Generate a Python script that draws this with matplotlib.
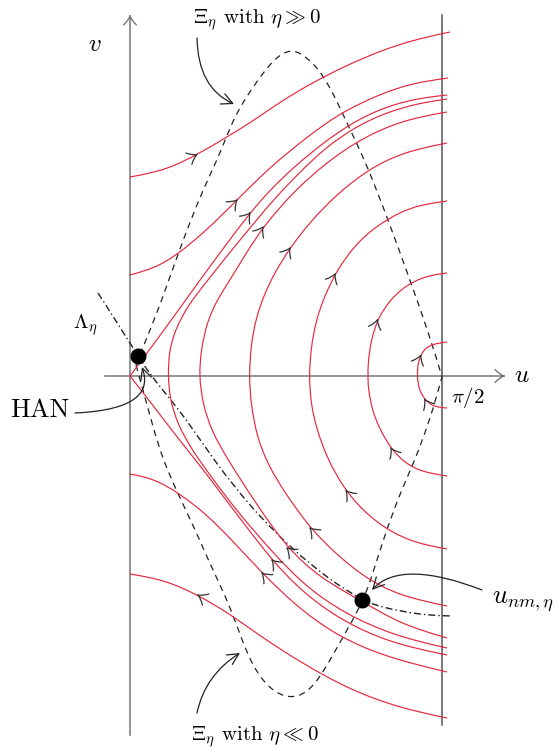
import numpy as np
import matplotlib
matplotlib.use("Agg")
import matplotlib.pyplot as plt
from matplotlib.path import Path
from matplotlib.patches import FancyArrowPatch, PathPatch

plt.rcParams['font.family'] = ['cmr10', 'DejaVu Serif']
plt.rcParams['mathtext.fontset'] = 'cm'
plt.rcParams['axes.unicode_minus'] = False
plt.rcParams['lines.scale_dashes'] = False

# ---- readings in picture units: (u,v) origin at X0,Y0; u = pi/2 at XR ----
X0, Y0, XR = 130.0, 376.0, 442.0
S = (np.pi / 2) / (XR - X0)

# trajectories (red), listed in the direction of the flow
traj_A = [(130,177),(167,170),(200,153),(227,137),(253,121),(280,102),(310,84),(345,66),(380,51),(413,40),(450,32)]
traj_B = [(130,275),(155,268),(177,255),(207,230),(237,200),(270,167),(307,137),(340,113),(380,94),(413,83),(448,78)]
traj_C_up = [(130,376),(150,349),(175,315),(200,280),(225,246),(250,213),(270,190),(295,166),(323,143),(353,122),(387,106),(420,98),(447,95)]
traj_C_lo = [(447,655),(390,643),(340,620),(300,590),(272,560),(245,525),(220,492),(198,463),(177,437),(155,408),(130,376)]
traj_D = [(447,648),(395,636),(345,614),(305,586),(275,555),(240,515),(212,478),(192,450),(178,425),(170,400),(168,376),
          (169,352),(175,330),(188,305),(208,280),(230,252),(255,222),(275,198),(300,172),(325,148),(355,127),(387,112),(420,103),(447,99)]
traj_E = [(447,638),(400,624),(360,600),(320,578),(287,548),(255,502),(228,460),(212,432),(203,405),(199,376),
          (201,350),(207,322),(217,300),(230,280),(245,255),(263,227),(293,192),(327,162),(362,138),(403,120),(447,112)]
traj_F = [(447,606),(400,596),(365,578),(335,553),(310,528),(285,493),(268,465),(257,437),(251,405),(249,376),
          (251,345),(256,318),(264,295),(275,272),(290,248),(310,222),(335,196),(367,170),(403,152),(447,143)]
traj_G = [(447,549),(415,543),(387,530),(362,510),(343,487),(327,458),(317,430),(311,405),(309,376),
          (311,348),(316,320),(325,295),(337,270),(355,245),(375,227),(400,212),(420,205),(447,201)]
traj_H = [(447,476),(422,472),(405,463),(392,450),(380,430),(372,410),(368,387),(368,376),
          (368,363),(371,340),(378,318),(390,300),(405,286),(425,276),(447,273)]
traj_I = [(447,408),(434,407),(425,400),(419,390),(417,376),(418,362),(423,350),(432,344),(447,342)]
traj_B2 = [(447,672),(385,657),(335,635),(295,605),(262,573),(232,540),(205,513),(180,494),(155,479),(130,474)]
traj_A2 = [(447,718),(400,708),(350,690),(300,662),(260,636),(230,614),(198,595),(165,580),(130,574)]

trajectories = [traj_A, traj_B, traj_C_up, traj_C_lo, traj_D, traj_E, traj_F, traj_G, traj_H, traj_I, traj_B2, traj_A2]

# flow-direction arrow marks: (trajectory index, position)
arrow_marks = [(0,(197,155)),(1,(237,200)),(2,(250,213)),(5,(263,227)),(6,(290,248)),(7,(333,273)),
               (8,(378,320)),(9,(420,355)),(9,(427,398)),(8,(393,447)),(7,(347,490)),(6,(310,528)),
               (5,(287,548)),(3,(272,560)),(10,(262,573)),(11,(198,595))]

# Xi_eta curves (dashed)
xi_pos = [(136,365),(143,347),(157,313),(167,285),(177,257),(190,222),(203,190),(217,160),(226,138),(235,116),
          (247,96),(260,77),(275,58),(290,49),(303,54),(320,70),(334,95),(347,123),(367,165),(387,217),
          (410,280),(430,337),(442,377)]
xi_neg = [(136,365),(143,390),(153,427),(163,460),(178,494),(193,525),(207,557),(220,585),(230,607),(242,640),
          (253,667),(270,690),(290,699),(307,693),(320,677),(333,655),(343,637),(360,607),(370,583),
          (383,540),(400,493),(413,465),(430,420),(442,377)]
# Lambda_eta (dash-dot)
lam = [(98,293),(118,324),(138,356),(147,370),(165,393),(187,420),(215,462),(253,510),(293,550),
       (330,580),(362,600),(380,607),(420,615),(452,616)]

han_pt = (138,356)
unm_pt = (362,600)


def uv(pts):
    a = np.asarray(pts, float)
    return np.column_stack([(a[:, 0] - X0) * S, (Y0 - a[:, 1]) * S])


def smooth_path(pts):
    P = uv(pts)
    P = np.vstack([P[0], P[0], P, P[-1], P[-1]])
    verts, codes = [], []
    for i in range(len(P) - 3):
        q0, q1, q2, q3 = P[i], P[i + 1], P[i + 2], P[i + 3]
        b0 = (q0 + 4 * q1 + q2) / 6
        b1 = (2 * q1 + q2) / 3
        b2 = (q1 + 2 * q2) / 3
        b3 = (q1 + 4 * q2 + q3) / 6
        if i == 0:
            verts.append(b0); codes.append(Path.MOVETO)
        verts += [b1, b2, b3]
        codes += [Path.CURVE4] * 3
    return Path(np.array(verts), codes)


fig = plt.figure(figsize=(5.58, 7.5), dpi=100)
ax = fig.add_axes([0, 0, 1, 1])
ax.set_xlim((0 - X0) * S, (558 - X0) * S)
ax.set_ylim((Y0 - 750) * S, Y0 * S)
ax.axis('off')

RED = '#e8273d'
for t in trajectories:
    ax.add_patch(PathPatch(smooth_path(t), fill=False, edgecolor=RED, lw=0.85, zorder=3))

for c in (xi_pos, xi_neg):
    ax.add_patch(PathPatch(smooth_path(c), fill=False, edgecolor='#222222', lw=0.9,
                           linestyle=(0, (4.5, 3.6)), zorder=2))
ax.add_patch(PathPatch(smooth_path(lam), fill=False, edgecolor='#222222', lw=1.0,
                       linestyle=(0, (5, 2.2, 1, 2.2)), zorder=2))


def chevron(p, d, color='#333333', L=11.0, half=np.radians(36), lw=0.9):
    d = d / np.hypot(*d)
    n = np.array([-d[1], d[0]])
    Ld = L * S
    for s in (1, -1):
        end = p - Ld * (np.cos(half) * d + s * np.sin(half) * n)
        ctrl = p - 0.5 * Ld * (np.cos(half * 0.6) * d + s * np.sin(half * 0.6) * n)
        ax.add_patch(PathPatch(Path([p, ctrl, end], [Path.MOVETO, Path.CURVE3, Path.CURVE3]),
                               fill=False, edgecolor=color, lw=lw, zorder=5, capstyle='round'))


for idx, pos in arrow_marks:
    P = uv(trajectories[idx])
    q = uv([pos])[0]
    best = None
    for i in range(len(P) - 1):
        a, b = P[i], P[i + 1]
        ab = b - a
        t = np.clip(np.dot(q - a, ab) / np.dot(ab, ab), 0, 1)
        pr = a + t * ab
        dist = np.hypot(*(q - pr))
        if best is None or dist < best[0]:
            best = (dist, pr, ab)
    _, pr, ab = best
    chevron(pr, ab)

# axes lines
AX = '#777777'
vax = uv([(130, 735), (130, 16)])
hax = uv([(105, 376), (504, 376)])
rax = uv([(442, 15), (442, 725)])
ax.plot(vax[:, 0], vax[:, 1], color=AX, lw=1.1, zorder=1)
ax.plot(hax[:, 0], hax[:, 1], color=AX, lw=1.1, zorder=1)
ax.plot(rax[:, 0], rax[:, 1], color='#555555', lw=1.1, zorder=1)
chevron(vax[1], np.array([0.0, 1.0]), color=AX, L=11, lw=1.0)
chevron(hax[1], np.array([1.0, 0.0]), color=AX, L=11, lw=1.0)

# dots
for p in (han_pt, unm_pt):
    q = uv([p])[0]
    ax.plot([q[0]], [q[1]], 'o', ms=10.5, color='black', zorder=6)


# annotation arrows
def ann(path_pts, codes):
    P = uv(path_pts)
    pa = FancyArrowPatch(path=Path(P, codes), arrowstyle='->,head_length=8,head_width=4',
                         lw=0.9, color='#222222', zorder=6, mutation_scale=1)
    ax.add_patch(pa)


ann([(197, 38), (198, 88), (234, 104)], [Path.MOVETO, Path.CURVE3, Path.CURVE3])
ann([(75, 413), (140, 410), (150, 390), (142, 367)], [Path.MOVETO, Path.CURVE4, Path.CURVE4, Path.CURVE4])
ann([(482, 590), (430, 570), (392, 568), (372, 590)], [Path.MOVETO, Path.CURVE4, Path.CURVE4, Path.CURVE4])
ann([(197, 713), (205, 675), (240, 653)], [Path.MOVETO, Path.CURVE3, Path.CURVE3])


# texts
def txt(p, s, size, ha='center', va='center'):
    q = uv([p])[0]
    ax.text(q[0], q[1], s, fontsize=size, ha=ha, va=va, zorder=7)


txt((95, 45), r'$v$', 18)
txt((522, 376), r'$u$', 18)
txt((451, 398), r'$\pi/2$', 15, ha='left')
txt((85, 325), r'$\Lambda_\eta$', 15)
txt((40, 410), 'HAN', 19)
txt((492, 602), r'$u_{nm,\eta}$', 19, ha='left')
txt((257, 20), r'$\Xi_\eta$ with $\eta \gg 0$', 15)
txt((255, 737), r'$\Xi_\eta$ with $\eta \ll 0$', 15)

fig.savefig('out.png', dpi=100)
